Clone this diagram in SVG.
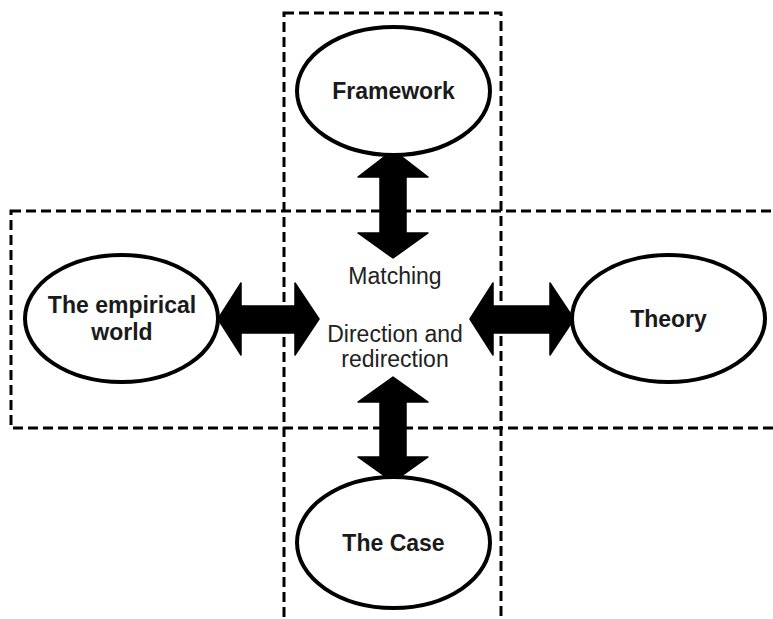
<svg xmlns="http://www.w3.org/2000/svg" width="773" height="619" viewBox="0 0 773 619">
  <style>
    .frame { fill: none; stroke: #000; stroke-width: 3; stroke-dasharray: 10 5; }
    .node { fill: #fff; stroke: #000; stroke-width: 4; }
    .arrow { fill: #000; stroke: #000; stroke-width: 1.5; stroke-linejoin: round; }
    .label { font-family: "Liberation Sans", Arial, sans-serif; font-size: 23px; font-weight: bold; fill: #1a1a1a; text-anchor: middle; }
    .note { font-family: "Liberation Sans", Arial, sans-serif; font-size: 23px; fill: #222; text-anchor: middle; }
  </style>
  <rect width="773" height="619" fill="#fff"/>

  <!-- dashed frames: vertical band and horizontal band -->
  <g id="frames">
    <rect class="frame" x="284" y="13" width="217" height="640"/>
    <rect class="frame" x="11" y="211" width="790" height="217"/>
  </g>

  <!-- double-headed block arrows -->
  <g id="connectors">
    <polygon class="arrow" points="393,150 428,177 406,177 406,233 428,233 393,258 358,233 380,233 380,177 358,177"/>
    <polygon class="arrow" points="393,377 428,402 406,402 406,457 428,457 393,482 358,457 380,457 380,402 358,402"/>
    <polygon class="arrow" points="218,319 241,283 241,306 295,306 295,283 319,319 295,355 295,333 241,333 241,355"/>
    <polygon class="arrow" points="470,319 493,283 493,306 550,306 550,283 574,319 550,355 550,333 493,333 493,355"/>
  </g>

  <g id="framework">
    <ellipse class="node" cx="393.5" cy="91" rx="96.5" ry="64"/>
    <text class="label" x="393.5" y="99">Framework</text>
  </g>

  <g id="empirical-world">
    <ellipse class="node" cx="121.5" cy="318.5" rx="96.5" ry="63.5"/>
    <text class="label" x="122" y="313">The empirical</text>
    <text class="label" x="122" y="340">world</text>
  </g>

  <g id="theory">
    <ellipse class="node" cx="668.5" cy="318.5" rx="96.5" ry="63.5"/>
    <text class="label" x="668.5" y="327">Theory</text>
  </g>

  <g id="the-case">
    <ellipse class="node" cx="393.5" cy="542.5" rx="96.5" ry="65.5"/>
    <text class="label" x="393.5" y="551">The Case</text>
  </g>

  <g id="center">
    <text class="note" x="395" y="284">Matching</text>
    <text class="note" x="395" y="342">Direction and</text>
    <text class="note" x="395" y="367">redirection</text>
  </g>
</svg>
